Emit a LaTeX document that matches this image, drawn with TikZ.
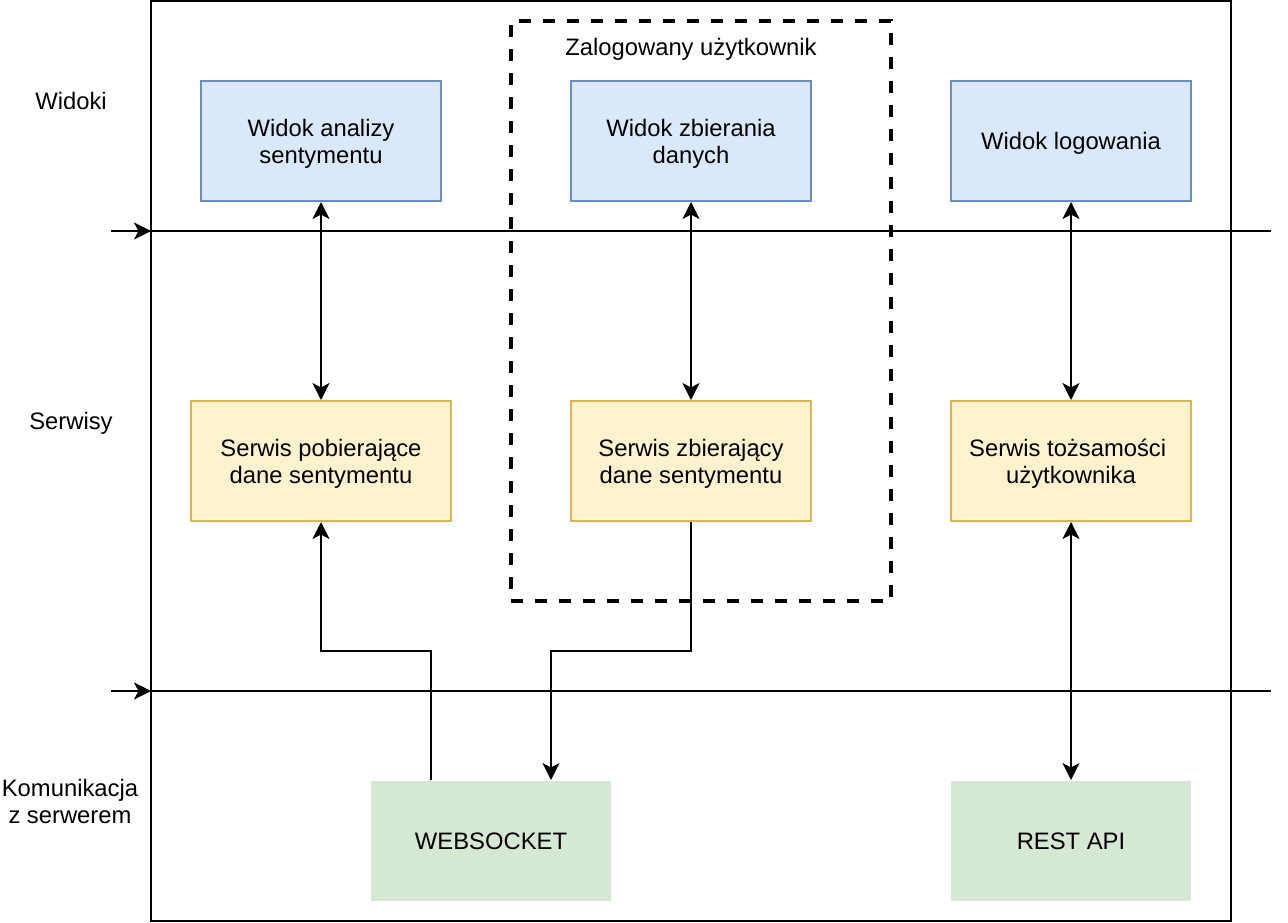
\documentclass[tikz,border=0pt]{standalone}
\usepackage{fontspec}
\setmainfont{Liberation Sans}
\usepackage{tikz}
\usetikzlibrary{arrows.meta}

\definecolor{viewfill}{HTML}{DAE8FC}
\definecolor{viewline}{HTML}{6C8EBF}
\definecolor{servfill}{HTML}{FFF2CC}
\definecolor{servline}{HTML}{D6B656}
\definecolor{commfill}{HTML}{D5E8D4}

\begin{document}
\begin{tikzpicture}[x=1pt, y=-1pt, line width=2pt, >={Stealth[length=17pt, width=17pt, inset=4.5pt]},
		every node/.style={font=\fontsize{23.8}{27}\selectfont, align=center, inner sep=0pt,
			text height=22pt, text depth=4.4pt},
		twoline/.style={text height=49pt},
		box/.style={minimum width=240pt, minimum height=120pt},
		view/.style={box, draw=viewline, fill=viewfill},
		serv/.style={box, draw=servline, fill=servfill},
		comm/.style={box, fill=commfill},
		group/.style={draw, line width=3.5pt, dash pattern=on 12pt off 12pt}]
		\useasboundingbox (0, 0) rectangle (1288, 922);
		\node[draw, minimum width=1080pt, minimum height=920pt]	(frame) at (691, 461) {};
		\node[group, minimum width=380pt, minimum height=580pt]	(logged) at (701, 311) {};
		\node										(loggedlbl) at (691, 47) {Zalogowany użytkownik};
		
		\node			(views) at (71, 101) {Widoki};
		\node			(servs) at (71, 421) {Serwisy};
		\node[twoline]	(comms) at (70, 801) {Komunikacja\\z serwerem};
		
		\coordinate	(topin) at (111, 231);
		\coordinate	(topfr) at (151, 231);
		\coordinate	(topout) at (1271, 231);
		\coordinate	(botin) at (111, 691);
		\coordinate	(botfr) at (151, 691);
		\coordinate	(botout) at (1271, 691);
		\draw[->] (topin) -- (topfr);
		\draw (topfr) -- (topout);
		\draw[->] (botin) -- (botfr);
		\draw (botfr) -- (botout);
		
		\node[view, twoline]						(analysisview) at (321, 141) {Widok analizy\\sentymentu};
		\node[view, twoline]						(collectview) at (691, 141) {Widok zbierania\\danych};
		\node[view]								(loginview) at (1071, 141) {Widok logowania};
		\node[serv, twoline, minimum width=260pt]	(fetchserv) at (321, 461) {Serwis pobierające\\dane sentymentu};
		\node[serv, twoline]						(collectserv) at (691, 461) {Serwis zbierający\\dane sentymentu};
		\node[serv, twoline]						(identserv) at (1071, 461) {Serwis tożsamości\kern.28em\\użytkownika};
		\node[comm]								(websocket) at (491, 841) {WEBSOCKET};
		\node[comm]								(restapi) at (1071, 841) {REST API};
		
		\coordinate	(wsbend) at (431, 651);
		\coordinate	(csbend) at (691, 651);
		
		\path[<->]	(analysisview) edge (fetchserv)
					(collectview) edge (collectserv)
					(loginview) edge (identserv)
					(identserv) edge (restapi);
		\draw[->] ([xshift=-60pt]websocket.north) -- (wsbend) -| (fetchserv.south);
		\draw[->] (collectserv.south) -- (csbend) -| ([xshift=60pt]websocket.north);
	\end{tikzpicture}
\end{document}
